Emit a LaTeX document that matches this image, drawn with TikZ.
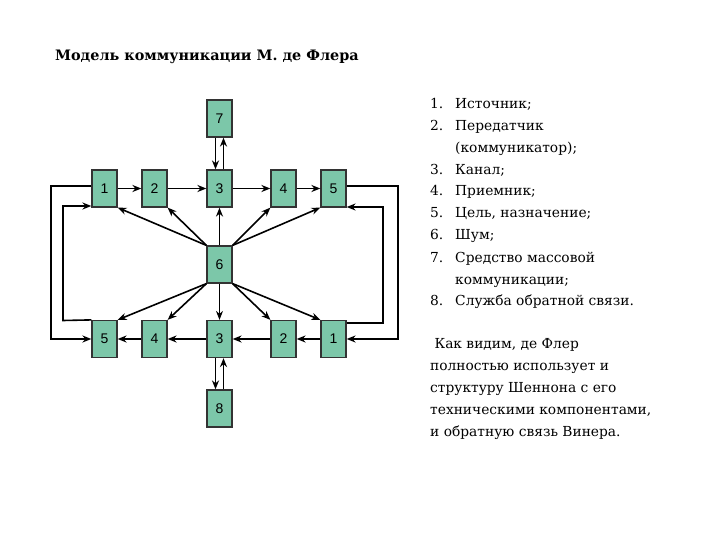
\documentclass[tikz,border=0pt]{standalone}
\usepackage{fontspec}
\setmainfont{DejaVu Serif}
\newfontfamily\boxfont{Liberation Sans}
\usetikzlibrary{arrows.meta}
\definecolor{boxg}{HTML}{7CC7A9}
\begin{document}
\begin{tikzpicture}[x=1pt,y=-1pt,
 bx/.style={draw=black!80,line width=1.2pt,fill=boxg,minimum width=25pt,minimum height=37pt,inner sep=0pt,font=\boxfont\fontsize{14}{14}\selectfont},
 ar/.style={-{Stealth[length=9pt,width=7pt]},line width=1.6pt},
 txt/.style={anchor=base west,inner sep=0pt,font=\fontsize{13.8}{16}\selectfont}]
\useasboundingbox (0,0) rectangle (720,540);
\node[anchor=base west,inner sep=0pt,font=\bfseries\fontsize{14.4}{16}\selectfont] (title) at (55,61) {Модель коммуникации М. де Флера};
\node[bx] (b7) at (219.5,118.5) {7};
\node[bx] (t1) at (104.5,188.5) {1};
\node[bx] (t2) at (154.5,188.5) {2};
\node[bx] (t3) at (219.5,188.5) {3};
\node[bx] (t4) at (283.5,188.5) {4};
\node[bx] (t5) at (333.5,188.5) {5};
\node[bx] (c6) at (219.5,264.5) {6};
\node[bx] (d5) at (104.5,339) {5};
\node[bx] (d4) at (154.5,339) {4};
\node[bx] (d3) at (219.5,339) {3};
\node[bx] (d2) at (283.5,339) {2};
\node[bx] (d1) at (333.5,339) {1};
\node[bx] (b8) at (219.5,408.5) {8};
% vertical pairs
\draw[ar] ([xshift=-4pt]b7.south) -- ([xshift=-4pt]t3.north);
\draw[ar] ([xshift=4pt]t3.north) -- ([xshift=4pt]b7.south);
\draw[ar] ([xshift=-4pt]d3.south) -- ([xshift=-4pt]b8.north);
\draw[ar] ([xshift=4pt]b8.north) -- ([xshift=4pt]d3.south);
% rows
\draw[ar] (t1) -- (t2); \draw[ar] (t2) -- (t3); \draw[ar] (t3) -- (t4); \draw[ar] (t4) -- (t5);
\draw[ar] (d1) -- (d2); \draw[ar] (d2) -- (d3); \draw[ar] (d3) -- (d4); \draw[ar] (d4) -- (d5);
% from 6
\draw[ar] (c6.north west) -- (t1.south east);
\draw[ar] (c6.north west) -- (t2.south east);
\draw[ar] (c6.north) -- (t3.south);
\draw[ar] (c6.north east) -- (t4.south west);
\draw[ar] (c6.north east) -- (t5.south west);
\draw[ar] (c6.south west) -- (d5.north east);
\draw[ar] (c6.south west) -- (d4.north east);
\draw[ar,line width=1pt] (c6.south) -- (d3.north);
\draw[ar] (c6.south east) -- (d2.north west);
\draw[ar] (c6.south east) -- (d1.north west);
% loops
\coordinate (lo1) at (51,186); \coordinate (lo2) at (51,339);
\draw[ar] (t1.west |- lo1) -- (lo1) -- (lo2) -- (d5.west |- lo2);
\coordinate (li1) at (63,320.5); \coordinate (li2) at (63,206);
\draw[ar] (d5.north west) -- (li1) -- (li2) -- (t1.west |- li2);
\coordinate (ro1) at (398,186); \coordinate (ro2) at (398,339);
\draw[ar] (t5.east |- ro1) -- (ro1) -- (ro2) -- (d1.east |- ro2);
\coordinate (ri1) at (383,323); \coordinate (ri2) at (383,207);
\draw[ar] (d1.east |- ri1) -- (ri1) -- (ri2) -- (t5.east |- ri2);
% list
\foreach \n/\y/\t in {1./109/{Источник;},2./131/{Передатчик},/153/{(коммуникатор);},3./175/{Канал;},4./196/{Приемник;},5./218/{Цель, назначение;},6./240/{Шум;},7./262/{Средство массовой},/284/{коммуникации;},8./305/{Служба обратной связи.}}{
 \node[txt] at (430,\y) {\n};
 \node[txt] at (455,\y) {\t};
}
\foreach \y/\t in {348/{\ Как видим, де Флер},370/{полностью использует и},392/{структуру Шеннона с его},414/{техническими компонентами,},436/{и обратную связь Винера.}}{
 \node[txt] at (430,\y) {\t};
}
\end{tikzpicture}
\end{document}
